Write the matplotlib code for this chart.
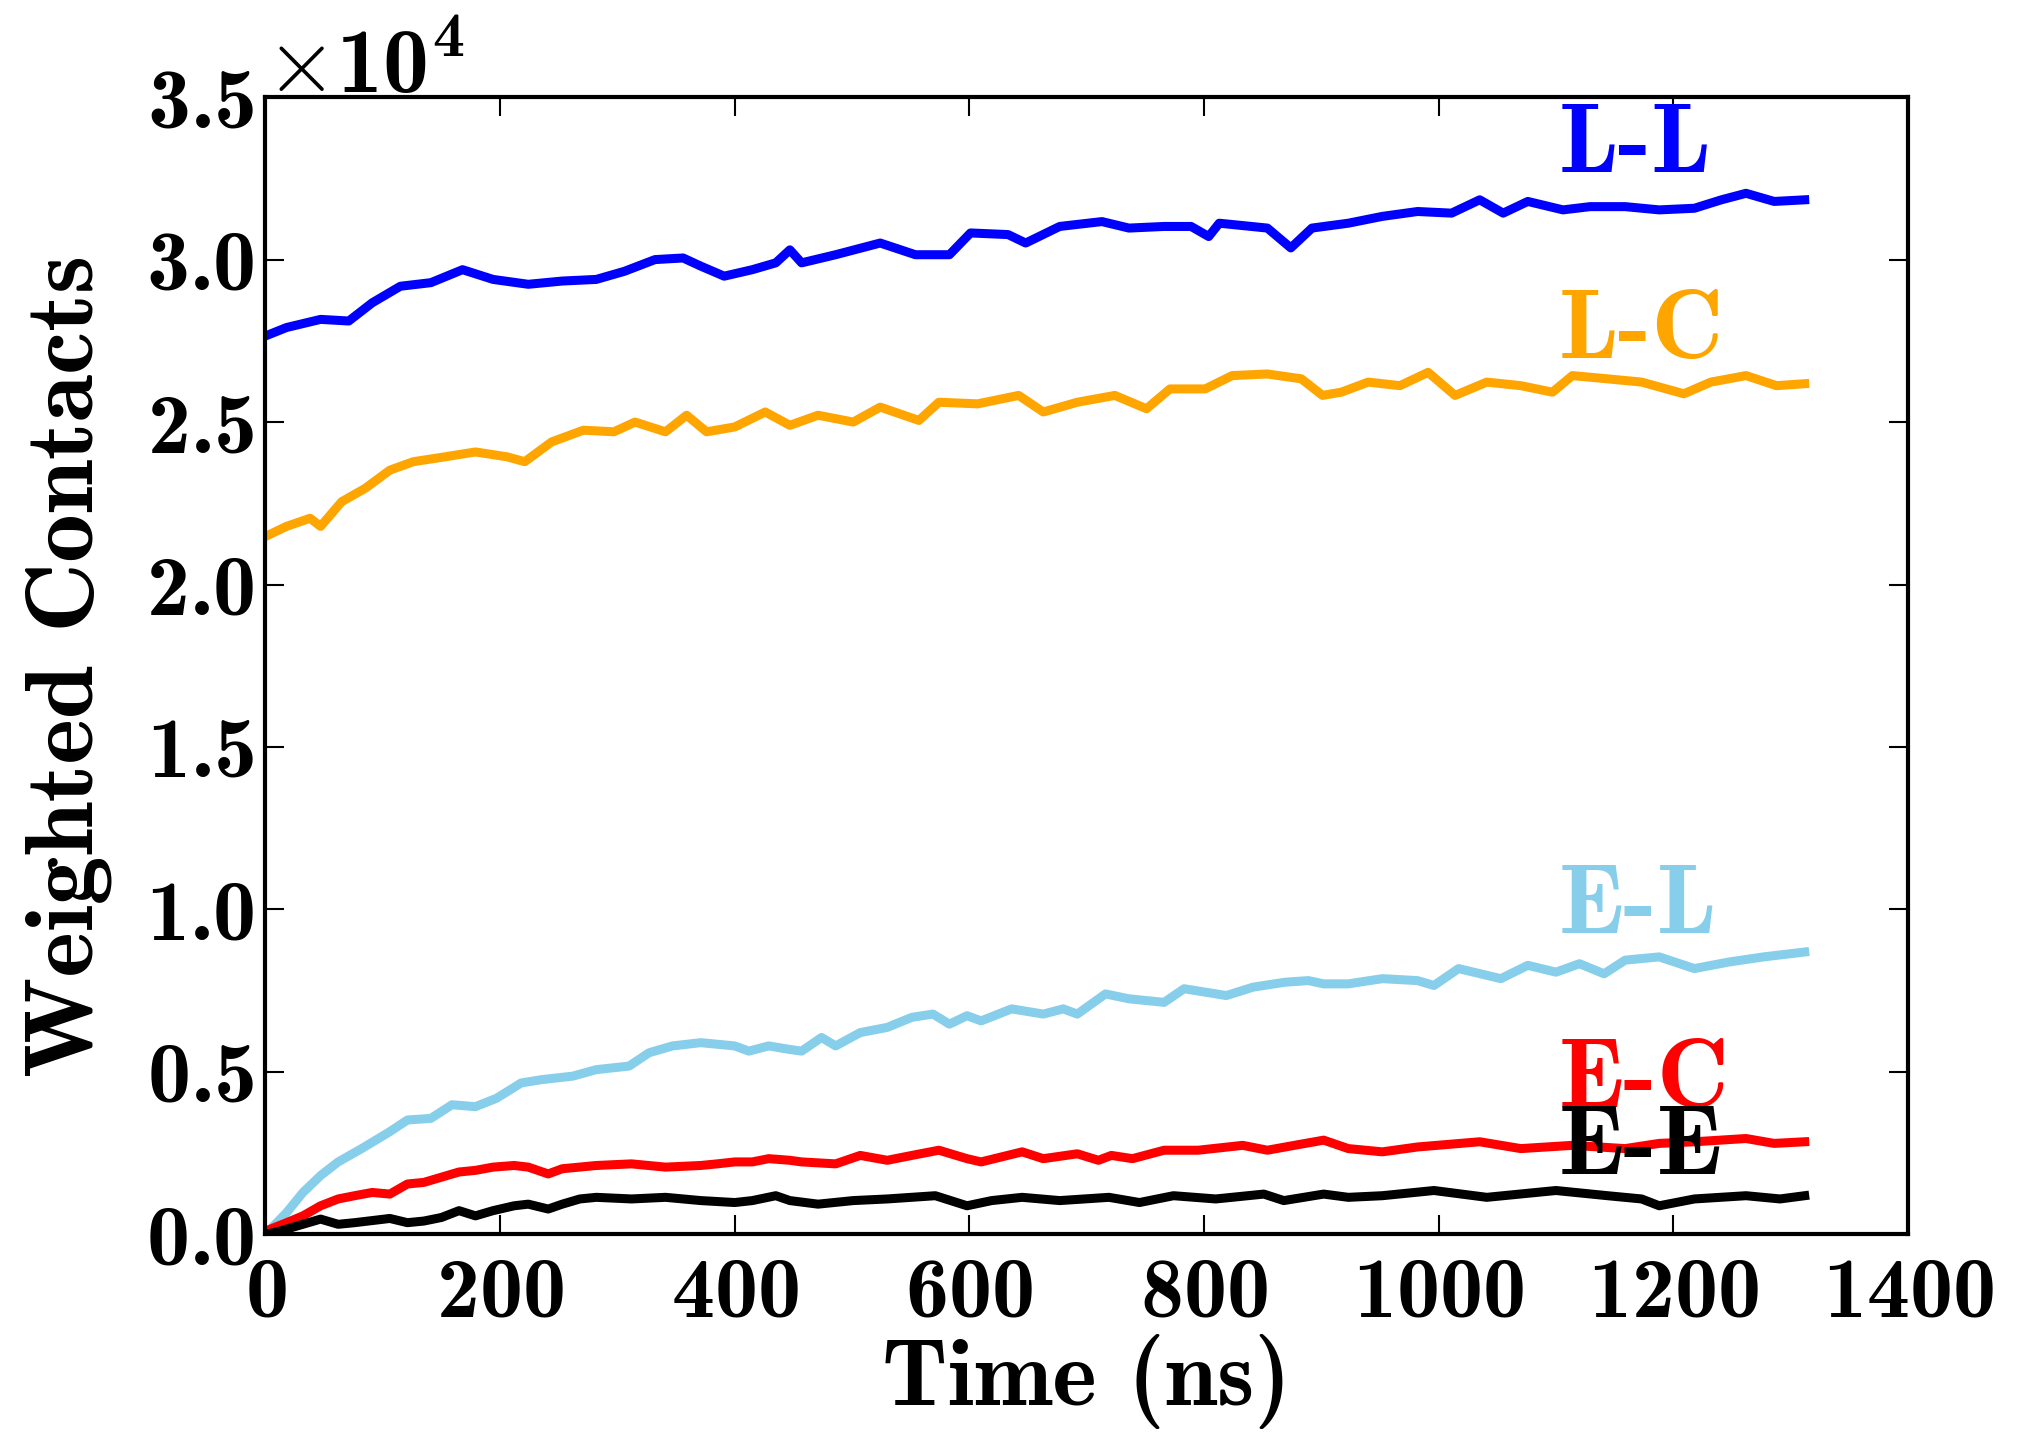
import matplotlib
matplotlib.use("Agg")
import matplotlib.pyplot as plt

plt.rcParams['font.family'] = ['cmb10', 'DejaVu Serif']
plt.rcParams['mathtext.fontset'] = 'cm'
plt.rcParams['axes.unicode_minus'] = False
plt.rcParams['axes.formatter.use_mathtext'] = True

# values (time in ns, weighted contacts)
t_ll = [0, 18, 47, 71, 91, 115, 141, 168, 194, 224, 253, 282, 306, 332, 356, 371, 391, 415, 435, 447,
        457, 486, 524, 554, 583, 601, 633, 648, 677, 713, 736, 766, 789, 804, 813, 854, 874, 892,
        923, 952, 982, 1011, 1035, 1055, 1076, 1106, 1129, 1159, 1188, 1218, 1241, 1262, 1286, 1312]
ll = [27650, 27910, 28160, 28110, 28670, 29180, 29290, 29690, 29390, 29240, 29340, 29390, 29640, 30000,
      30050, 29800, 29490, 29690, 29900, 30300, 29900, 30150, 30510, 30150, 30150, 30820, 30770, 30510,
      31020, 31170, 30970, 31020, 31020, 30710, 31120, 30970, 30360, 30970, 31120, 31330, 31480, 31430,
      31840, 31430, 31790, 31530, 31630, 31630, 31530, 31580, 31840, 32040, 31790, 31840]

t_lc = [0, 18, 38, 47, 65, 85, 106, 126, 153, 179, 206, 221, 244, 271, 297, 315, 341, 359, 376, 400,
        426, 447, 471, 501, 524, 557, 574, 607, 642, 663, 692, 724, 751, 771, 801, 824, 854, 883, 901,
        917, 940, 967, 991, 1014, 1041, 1070, 1097, 1114, 1144, 1173, 1209, 1232, 1262, 1288, 1312]
lc = [21480, 21790, 22040, 21790, 22550, 22960, 23520, 23780, 23930, 24080, 23930, 23780, 24390, 24750,
      24700, 25000, 24700, 25210, 24700, 24850, 25310, 24900, 25210, 25000, 25460, 25050, 25610, 25560,
      25820, 25310, 25610, 25820, 25410, 26020, 26020, 26430, 26480, 26330, 25820, 25920, 26230, 26120,
      26530, 25820, 26230, 26120, 25920, 26430, 26330, 26230, 25870, 26230, 26430, 26120, 26180]

t_el = [0, 18, 32, 47, 62, 82, 106, 121, 141, 159, 179, 197, 218, 235, 262, 282, 310, 327, 347, 371,
        400, 412, 429, 447, 457, 474, 486, 507, 530, 551, 569, 583, 598, 610, 636, 663, 680, 692, 716,
        736, 766, 783, 819, 842, 869, 889, 902, 923, 952, 982, 996, 1017, 1053, 1076, 1100, 1120,
        1141, 1159, 1188, 1218, 1247, 1277, 1312]
el = [0, 670, 1290, 1810, 2230, 2640, 3160, 3520, 3570, 3990, 3930, 4190, 4660, 4760, 4870, 5070, 5180,
      5590, 5800, 5900, 5800, 5640, 5800, 5690, 5640, 6060, 5800, 6210, 6370, 6680, 6780, 6470, 6730,
      6570, 6940, 6780, 6940, 6780, 7400, 7250, 7140, 7560, 7350, 7610, 7760, 7810, 7710, 7710, 7870,
      7810, 7660, 8180, 7870, 8280, 8070, 8330, 8020, 8440, 8540, 8180, 8380, 8540, 8690]

t_ec = [0, 18, 32, 47, 62, 76, 91, 106, 121, 135, 150, 165, 179, 194, 212, 224, 241, 253, 282, 312,
        341, 371, 385, 400, 415, 429, 447, 457, 486, 507, 530, 551, 574, 598, 610, 645, 663, 692, 710,
        721, 739, 766, 795, 833, 854, 877, 902, 923, 952, 982, 1035, 1070, 1114, 1159, 1188, 1218,
        1262, 1286, 1312]
ec = [100, 360, 570, 880, 1090, 1190, 1290, 1240, 1550, 1600, 1760, 1920, 1970, 2070, 2120, 2070, 1860,
      2020, 2120, 2170, 2070, 2120, 2170, 2230, 2230, 2330, 2280, 2230, 2170, 2430, 2280, 2430, 2590,
      2330, 2230, 2540, 2330, 2480, 2280, 2430, 2330, 2590, 2590, 2740, 2590, 2740, 2900, 2640, 2540,
      2690, 2850, 2640, 2740, 2640, 2800, 2850, 2950, 2800, 2850]

t_ee = [0, 12, 47, 62, 76, 106, 121, 135, 150, 165, 179, 194, 212, 224, 241, 253, 268, 282, 312, 341,
        371, 400, 415, 435, 447, 471, 501, 530, 571, 598, 619, 645, 677, 719, 745, 774, 810, 851, 868,
        902, 923, 952, 996, 1041, 1100, 1144, 1173, 1188, 1218, 1262, 1291, 1312]
ee = [0, 100, 470, 310, 360, 490, 360, 410, 520, 730, 570, 730, 880, 930, 780, 930, 1090, 1140, 1090,
      1140, 1040, 980, 1040, 1190, 1040, 930, 1040, 1090, 1190, 880, 1040, 1140, 1040, 1140, 980, 1190,
      1090, 1240, 1040, 1240, 1140, 1190, 1350, 1140, 1350, 1190, 1090, 880, 1090, 1190, 1090, 1190]

series = [(t_ll, ll, '#0000ff', 'L-L', 32700),
          (t_lc, lc, '#ffa500', 'L-C', 26970),
          (t_el, el, '#87ceeb', 'E-L', 9290),
          (t_ec, ec, '#ff0000', 'E-C', 3930),
          (t_ee, ee, '#000000', 'E-E', 1860)]

fig = plt.figure(figsize=(20.31, 14.39), dpi=100)
ax = fig.add_axes([0.1307, 0.1422, 0.8087, 0.7903])

for t, v, c, name, ylab in series:
    ax.plot(t, v, color=c, lw=6.5, solid_joinstyle='round')
    ax.text(1102, ylab, name, color=c, fontsize=72, ha='left', va='baseline')

ax.set_xlim(0, 1400)
ax.set_ylim(0, 35000)
ax.set_xticks(range(0, 1401, 200))
ax.set_yticks(range(0, 35001, 5000))
ax.ticklabel_format(axis='y', style='sci', scilimits=(0, 0), useMathText=True)
ax.yaxis.get_offset_text().set_fontsize(66)

ax.tick_params(direction='in', length=14, width=1.5, labelsize=62,
               top=True, right=True)
ax.tick_params(axis='x', pad=16)
ax.tick_params(axis='y', pad=8)
for s in ax.spines.values():
    s.set_linewidth(3)

ax.set_xlabel('Time (ns)', fontsize=68, labelpad=0)
ax.set_ylabel('Weighted Contacts', fontsize=70, labelpad=24)

fig.savefig('out.png', dpi=100)
